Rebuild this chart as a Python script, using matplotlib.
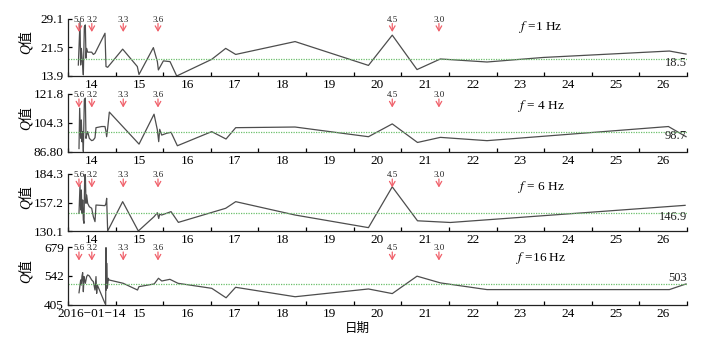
import matplotlib
matplotlib.use('Agg')
import matplotlib.pyplot as plt
import matplotlib.transforms as mtransforms
import numpy as np

plt.rcParams['mathtext.fontset'] = 'stix'
plt.rcParams['font.family'] = ['Liberation Serif', 'Noto Sans CJK SC', 'DejaVu Sans']
plt.rcParams['axes.unicode_minus'] = True

# ---------------- data (day of January 2016) ----------------
day1 = [13.717, 13.752, 13.766, 13.780, 13.794, 13.808, 13.822, 13.843, 13.864, 13.878,
        13.892, 13.913, 13.997, 14.032, 14.067, 14.277, 14.298, 14.333, 14.648, 14.956,
        14.991, 15.293, 15.377, 15.398, 15.503, 15.643, 15.783, 16.518, 16.812, 17.022,
        18.269, 19.81, 20.31, 20.83, 21.32, 22.30, 23.48, 26.13, 26.48]
q1 = [16.8, 28.3, 16.8, 21.2, 19.0, 16.8, 14.2, 26.9, 27.4, 18.6,
      21.2, 20.2, 20.2, 19.6, 19.9, 25.2, 16.4, 16.2, 21.0, 16.4,
      14.3, 21.4, 17.7, 15.5, 17.9, 17.7, 13.9, 18.3, 21.2, 19.6,
      23.0, 16.7, 24.7, 15.6, 18.4, 17.6, 18.8, 20.5, 19.7]

day4 = [13.731, 13.745, 13.766, 13.780, 13.794, 13.808, 13.822, 13.843, 13.864, 13.878,
        13.892, 13.913, 13.948, 13.997, 14.032, 14.067, 14.088, 14.207, 14.277, 14.298,
        14.312, 14.333, 14.368, 14.992, 15.307, 15.377, 15.405, 15.426, 15.468, 15.573,
        15.664, 15.797, 16.518, 16.819, 17.022, 18.269, 19.81, 20.31, 20.84, 21.32,
        22.30, 26.11, 26.48]
q4 = [88.6, 113.2, 94.8, 106.0, 92.7, 98.9, 86.8, 118.3, 119.3, 94.8,
      96.8, 98.9, 94.8, 93.4, 93.8, 95.2, 101.3, 102.0, 102.0, 98.9,
      95.8, 100.9, 110.8, 91.3, 109.5, 99.9, 92.8, 100.3, 96.8, 97.9,
      98.5, 90.3, 98.9, 94.4, 101.3, 101.7, 95.8, 103.6, 92.3, 95.4,
      93.4, 102.0, 95.8]

day6 = [13.731, 13.752, 13.766, 13.780, 13.794, 13.808, 13.822, 13.836, 13.850, 13.864,
        13.878, 13.892, 13.913, 13.948, 13.997, 14.032, 14.067, 14.088, 14.277, 14.298,
        14.312, 14.319, 14.333, 14.648, 14.977, 15.307, 15.377, 15.405, 15.426, 15.468,
        15.664, 15.818, 16.812, 17.022, 18.269, 19.81, 20.31, 20.84, 21.53, 26.46]
q6 = [146.9, 173.8, 150.1, 169.1, 146.9, 159.6, 140.6, 137.4, 181.8, 184.3,
      156.4, 164.3, 156.4, 153.2, 151.7, 143.7, 139.0, 154.8, 154.2, 156.4,
      161.2, 150.1, 130.1, 158.0, 130.1, 143.7, 147.5, 142.0, 146.0, 145.3,
      148.5, 138.3, 151.7, 158.0, 145.3, 133.3, 172.1, 139.8, 138.2, 154.5]

day16 = [13.731, 13.766, 13.780, 13.794, 13.808, 13.822, 13.836, 13.850, 13.864, 13.892,
         13.913, 13.948, 13.997, 14.032, 14.067, 14.088, 14.102, 14.116, 14.277, 14.291,
         14.298, 14.305, 14.312, 14.326, 14.347, 14.361, 14.66, 14.96, 14.99, 15.31,
         15.40, 15.47, 15.64, 15.81, 16.52, 16.82, 17.02, 18.27, 19.81, 20.31,
         20.83, 21.32, 22.30, 26.13, 26.48]
q16 = [461, 522, 498, 541, 557, 466, 538, 522, 506, 538,
       546, 541, 522, 514, 474, 538, 458, 498, 410, 405,
       676, 474, 602, 482, 530, 522, 506, 474, 490, 503,
       530, 517, 525, 506, 482, 437, 487, 442, 479, 457,
       540, 508, 476, 476, 503]

freq_titles = ['$f$ =1 Hz', '$f$ = 4 Hz', '$f$ = 6 Hz', '$f$ =16 Hz']
mean_values = [18.5, 98.7, 146.9, 503]
mean_labels = ['18.5', '98.7', '146.9', '503']
y_ticks = [[13.9, 21.5, 29.1], [86.8, 104.3, 121.8], [130.1, 157.2, 184.3], [405, 542, 679]]
y_ticklabels = [['13.9', '21.5', '29.1'], ['86.80', '104.3', '121.8'],
                ['130.1', '157.2', '184.3'], ['405', '542', '679']]

quake_days = [13.73, 14.0, 14.66, 15.39, 20.31, 21.29]
quake_mags = ['5.6', '3.2', '3.3', '3.6', '4.5', '3.0']

label_days = list(range(14, 27))
x_labels = [str(d) for d in label_days]
x_labels_last = ['2016\u221201\u221214'] + [str(d) for d in label_days[1:]]

# ---------------- figure ----------------
W, H = 721, 343
fig = plt.figure(figsize=(W / 100, H / 100), dpi=100)
fig.patch.set_facecolor('white')

def fx(px):
    return px / W

def fy(py):
    return 1 - py / H

geom = [(18.5, 76), (94, 151.5), (174, 231), (247, 304.5)]
series = [(day1, q1), (day4, q4), (day6, q6), (day16, q16)]
left_px, right_px = 68, 687
red = '#f0606a'

for i, ((top, bot), (xd, yd)) in enumerate(zip(geom, series)):
    hpx = bot - top
    ax = fig.add_axes([fx(left_px), fy(bot), (right_px - left_px) / W, hpx / H])
    ax.plot(xd, yd, color='#4d4d4d', lw=0.9)
    ax.axhline(mean_values[i], color='#6cc06c', lw=0.9, linestyle=(0, (1, 1)))
    ax.set_xlim(13.5, 26.5)
    ax.set_ylim(y_ticks[i][0], y_ticks[i][2])
    ax.set_yticks(y_ticks[i])
    ax.set_yticklabels(y_ticklabels[i])
    for s in ['top', 'right']:
        ax.spines[s].set_visible(False)
    for s in ['left', 'bottom']:
        ax.spines[s].set_linewidth(0.9)
        ax.spines[s].set_color('#222222')
    ax.set_xticks(np.arange(13.5, 26.6, 1.0))
    ax.set_xticklabels([])
    ax.set_xticks(label_days, minor=True)
    ax.set_xticklabels(x_labels_last if i == 3 else x_labels, minor=True)
    ax.tick_params(axis='x', which='major', direction='in', length=3, width=0.9)
    ax.tick_params(axis='x', which='minor', length=0, pad=2.5, labelsize=9.5)
    ax.tick_params(axis='y', direction='in', length=3, width=0.9, pad=3, labelsize=9.5)

    # quake arrows
    tr = mtransforms.blended_transform_factory(ax.transData, ax.transAxes)
    for qd, qm in zip(quake_days, quake_mags):
        ax.annotate('', xy=(qd, 1 - 13.5 / hpx), xytext=(qd, 1 - 5 / hpx),
                    xycoords=tr, textcoords=tr,
                    arrowprops=dict(arrowstyle='->,head_length=0.35,head_width=0.2',
                                    color=red, lw=0.9, shrinkA=0, shrinkB=0))
        ax.text(qd, 1 - 1 / hpx, qm, transform=tr, ha='center', va='center',
                fontsize=6.5, color='#222222')

    # mean label
    off = 4.3 if i == 3 else -3.0
    ax.annotate(mean_labels[i], xy=(1.0, mean_values[i]),
                xycoords=mtransforms.blended_transform_factory(ax.transAxes, ax.transData),
                xytext=(0, off), textcoords='offset points', ha='right', va='center',
                fontsize=9, color='#222222')

    # frequency title
    title_y = [27, 106, 187, 258][i]
    fig.text(fx(541), fy(title_y), freq_titles[i], ha='center', va='center', fontsize=9.5)

    # y label
    fig.text(fx(25), fy((top + bot) / 2 - 5), 'Q值', rotation=90, ha='center', va='center',
             fontsize=10, fontstyle='italic',
             family=['Liberation Serif', 'Noto Sans CJK SC'])

fig.text(fx(357), fy(328), '日期', ha='center', va='center', fontsize=9,
         family=['Noto Sans CJK SC', 'DejaVu Sans'])

fig.savefig('out.png', dpi=100, facecolor='white')
